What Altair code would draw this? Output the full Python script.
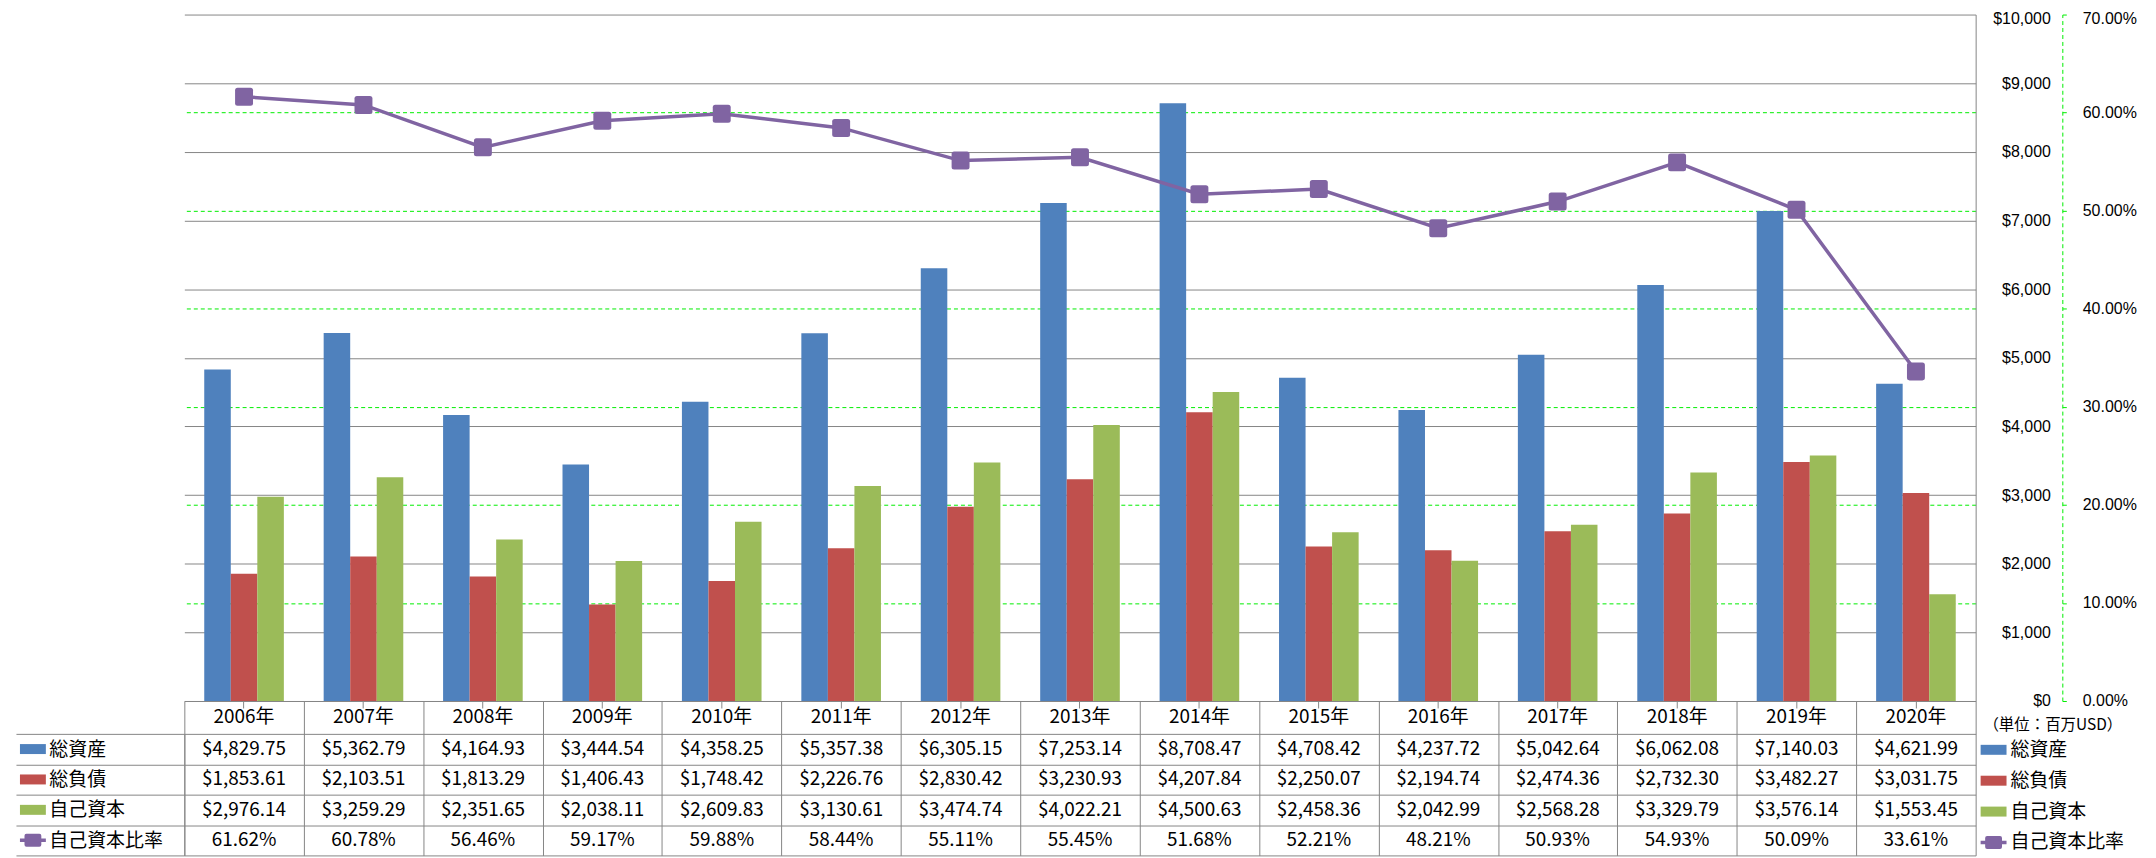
import altair as alt
import pandas as pd

# ---------------- data ----------------
years = ["2006年", "2007年", "2008年", "2009年", "2010年", "2011年", "2012年", "2013年",
         "2014年", "2015年", "2016年", "2017年", "2018年", "2019年", "2020年"]
total_assets = [4829.75, 5362.79, 4164.93, 3444.54, 4358.25, 5357.38, 6305.15, 7253.14,
                8708.47, 4708.42, 4237.72, 5042.64, 6062.08, 7140.03, 4621.99]
total_liabilities = [1853.61, 2103.51, 1813.29, 1406.43, 1748.42, 2226.76, 2830.42, 3230.93,
                     4207.84, 2250.07, 2194.74, 2474.36, 2732.30, 3482.27, 3031.75]
equity = [2976.14, 3259.29, 2351.65, 2038.11, 2609.83, 3130.61, 3474.74, 4022.21,
          4500.63, 2458.36, 2042.99, 2568.28, 3329.79, 3576.14, 1553.45]
equity_ratio_pct = [61.62, 60.78, 56.46, 59.17, 59.88, 58.44, 55.11, 55.45,
                    51.68, 52.21, 48.21, 50.93, 54.93, 50.09, 33.61]
series_names = ["総資産", "総負債", "自己資本", "自己資本比率"]
series_colors = ["#4F81BD", "#C0504D", "#9BBB59", "#8064A2"]
usd_ticks = [0, 1000, 2000, 3000, 4000, 5000, 6000, 7000, 8000, 9000, 10000]
pct_ticks = [0.0, 0.1, 0.2, 0.3, 0.4, 0.5, 0.6, 0.7]
unit_label = "（単位：百万USD）"

# ---------------- tables built from the arrays ----------------
bar_values = [total_assets, total_liabilities, equity]
bars_df = pd.DataFrame(
    [{"year": y, "series": series_names[s], "value": bar_values[s][i]}
     for s in range(3) for i, y in enumerate(years)]
)
ratio_df = pd.DataFrame({"year": years, "ratio": [r / 100 for r in equity_ratio_pct]})
table_rows = []
for i, y in enumerate(years):
    for s in range(3):
        table_rows.append({"year": y, "series": series_names[s], "label": f"${bar_values[s][i]:,.2f}"})
    table_rows.append({"year": y, "series": series_names[3], "label": f"{equity_ratio_pct[i]:.2f}%"})
table_df = pd.DataFrame(table_rows)
keys_df = pd.DataFrame({"series": series_names})

# ---------------- styling ----------------
FONT = "Noto Sans CJK JP"
AXIS_FONT = "Liberation Sans"
GRAY = "#868686"
GREEN = "#00EE00"
PURPLE = "#8064A2"
W, H = 1798, 689
ROW_RANGE = [722, 844]
AXIS_FS = 16

rect_path = "M-1,-0.385H1V0.385H-1Z"
ratio_key_path = ("M-1,-0.14H1V0.14H-1Z "
                  "M-0.5,-0.5H0.5Q0.65,-0.5 0.65,-0.35V0.35Q0.65,0.5 0.5,0.5"
                  "H-0.5Q-0.65,0.5 -0.65,0.35V-0.35Q-0.65,-0.5 -0.5,-0.5Z")
marker_path = ("M-0.72,-1H0.72Q1,-1 1,-0.72V0.72Q1,1 0.72,1H-0.72Q-1,1 -1,0.72"
               "V-0.72Q-1,-1 -0.72,-1Z")

x_scale = alt.Scale(type="band", domain=years, paddingInner=0, paddingOuter=0)
row_scale = alt.Scale(type="band", domain=series_names, range=ROW_RANGE,
                      paddingInner=0, paddingOuter=0)
color_scale = alt.Scale(domain=series_names, range=series_colors)
shape_scale = alt.Scale(domain=series_names,
                        range=[rect_path, rect_path, rect_path, ratio_key_path])

legend_spec = alt.Legend(title=None, orient="none", legendX=1803, legendY=725,
                         symbolSize=676, labelFontSize=19, labelFont=FONT,
                         labelColor="black", rowPadding=8, labelOffset=4, padding=0,
                         symbolStrokeWidth=0, symbolOpacity=1)

bars = alt.Chart(bars_df).mark_bar().encode(
    x=alt.X("year:N", scale=x_scale,
            axis=alt.Axis(orient="bottom", title=None, labelAngle=0, labelFontSize=19,
                          labelFont=FONT, labelPadding=9, labelBaseline="middle",
                          tickSize=7, tickColor=GRAY, domainColor=GRAY,
                          labelColor="black", grid=False, labelOverlap=False)),
    xOffset=alt.XOffset("series:N",
                        scale=alt.Scale(domain=series_names[:3], paddingInner=0,
                                        paddingOuter=0.75)),
    y=alt.Y("value:Q", scale=alt.Scale(domain=[0, 10000], nice=False, zero=True),
            axis=alt.Axis(orient="right", values=usd_ticks, format="$,.0f", grid=True,
                          gridColor=GRAY, ticks=False, domainColor=GRAY,
                          labelPadding=75, labelAlign="right", labelFontSize=AXIS_FS,
                          labelFont=AXIS_FONT,
                          labelColor="black", labelFlush=False, labelOverlap=False,
                          labelOffset={"condition": {"test": "datum.value >= 10000", "value": 4},
                                       "value": 0},
                          title=unit_label, titleFont=FONT, titleAngle=0, titleX=77,
                          titleY=713, titleFontSize=15.5, titleFontWeight="normal",
                          titleAlign="center", titleBaseline="middle",
                          titleColor="black")),
    color=alt.Color("series:N", scale=color_scale, legend=legend_spec),
)

ratio_y_scale = alt.Scale(domain=[0, 0.7], nice=False, zero=True)
line = alt.Chart(ratio_df).mark_line(color=PURPLE, strokeWidth=3.5).encode(
    x=alt.X("year:N", scale=x_scale, axis=None),
    y=alt.Y("ratio:Q", scale=ratio_y_scale,
            axis=alt.Axis(orient="right", offset=87, values=pct_ticks, format=".2%",
                          grid=True, gridColor=GREEN, gridDash=[4, 3],
                          gridOpacity={"condition": {"test": "datum.value <= 0.001 || datum.value >= 0.699",
                                                     "value": 0}, "value": 1},
                          domainColor=GREEN, domainDash=[4, 3], tickColor=GREEN,
                          tickSize=4, labelPadding=16, labelFontSize=AXIS_FS,
                          labelFont=AXIS_FONT,
                          labelColor="black", labelFlush=False, labelOverlap=False,
                          labelOffset={"condition": {"test": "datum.value >= 0.699", "value": 4},
                                       "value": 0},
                          title=None)),
)
points = alt.Chart(ratio_df).mark_point(filled=True, opacity=1, color=PURPLE,
                                        shape=marker_path, size=324).encode(
    x=alt.X("year:N", scale=x_scale, axis=None),
    y=alt.Y("ratio:Q", scale=ratio_y_scale, axis=None),
)

table = alt.Chart(table_df).mark_text(fontSize=19, color="black", font=FONT).encode(
    x=alt.X("year:N", scale=x_scale,
            axis=alt.Axis(orient="bottom", tickBand="extent", tickSize=155,
                          tickColor=GRAY, labels=False, domain=False, grid=False,
                          title=None)),
    y=alt.Y("series:N", scale=row_scale,
            axis=alt.Axis(orient="left", tickBand="extent", tickSize=169,
                          tickColor=GRAY, grid=True, gridColor=GRAY, domainColor=GRAY,
                          labelAlign="left", labelPadding=-33, labelFontSize=19,
                          labelFont=FONT, labelColor="black", labelBaseline="middle",
                          title=None, labelOverlap=False)),
    text="label:N",
)

keys = alt.Chart(keys_df).mark_point(filled=True, opacity=1, size=676).encode(
    x=alt.value(-152),
    y=alt.Y("series:N", scale=row_scale, axis=None),
    color=alt.Color("series:N", scale=color_scale, legend=legend_spec),
    shape=alt.Shape("series:N", scale=shape_scale, legend=legend_spec),
)

chart = alt.layer(bars, line, points, table, keys).resolve_scale(
    y="independent"
).resolve_axis(
    x="independent", y="independent"
).properties(
    width=W, height=H,
    padding={"left": 177, "top": 5, "right": 173, "bottom": 156},
    autosize=alt.AutoSizeParams(type="none"),
).configure_view(
    strokeWidth=0
).configure_legend(
    labelFont=FONT
).configure_text(
    font=FONT
)

chart.save("out.html", embed_options={"renderer": "svg", "actions": False})
